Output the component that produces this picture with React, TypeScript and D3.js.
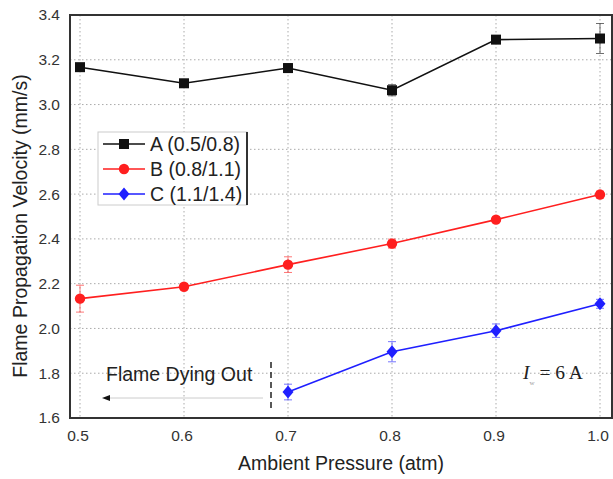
import React from "react";
import * as d3 from "d3";

const pressures = [0.5, 0.6, 0.7, 0.8, 0.9, 1.0];
const seriesA = [3.167, 3.095, 3.163, 3.064, 3.29, 3.295];
const errA = [0.015, 0.01, 0.02, 0.025, 0.01, 0.067];
const seriesB = [2.133, 2.186, 2.285, 2.379, 2.486, 2.598];
const errB = [0.06, 0.012, 0.035, 0.02, 0.01, 0.015];
const pressuresC = [0.7, 0.8, 0.9, 1.0];
const seriesC = [1.716, 1.896, 1.99, 2.11];
const errC = [0.035, 0.045, 0.03, 0.02];
const xTicks = [0.5, 0.6, 0.7, 0.8, 0.9, 1.0];
const yTicks = [1.6, 1.8, 2.0, 2.2, 2.4, 2.6, 2.8, 3.0, 3.2, 3.4];
const legendLabels = ["A (0.5/0.8)", "B (0.8/1.1)", "C (1.1/1.4)"];
const colors = ["#111111", "#ff1f1f", "#1f1fff"];

const W = 613, H = 479;
const L = 70, R = 612, T = 15, B = 418;

export default function App() {
  const x = d3.scaleLinear().domain([0.5, 1.0]).range([80, 600]);
  const y = d3.scaleLinear().domain([1.6, 3.4]).range([B, T]);
  const line = d3.line<[number, number]>().x(d => x(d[0])).y(d => y(d[1]));

  const series = [
    { xs: pressures, ys: seriesA, err: errA, shape: "square" },
    { xs: pressures, ys: seriesB, err: errB, shape: "circle" },
    { xs: pressuresC, ys: seriesC, err: errC, shape: "diamond" },
  ];

  const marker = (shape: string, cx: number, cy: number, color: string, key: any) => {
    if (shape === "square") return <rect key={key} x={cx - 5} y={cy - 5} width={10} height={10} fill={color} />;
    if (shape === "circle") return <circle key={key} cx={cx} cy={cy} r={5.2} fill={color} />;
    return <path key={key} d={`M${cx},${cy - 6.5}L${cx + 5.5},${cy}L${cx},${cy + 6.5}L${cx - 5.5},${cy}Z`} fill={color} />;
  };

  const font = "Liberation Sans, Arial, sans-serif";

  return (
    <svg width={W} height={H} style={{ position: "absolute", left: 0, top: 0, background: "#fff" }} fontFamily={font}>
      {/* grid */}
      {xTicks.map((t, i) => (
        <line key={"gx" + i} x1={x(t)} x2={x(t)} y1={T} y2={B} stroke="#aaa" strokeWidth={1} strokeDasharray="1.5,2.5" />
      ))}
      {yTicks.map((t, i) => (
        <line key={"gy" + i} x1={L} x2={R} y1={y(t)} y2={y(t)} stroke="#aaa" strokeWidth={1} strokeDasharray="1.5,2.5" />
      ))}
      {/* series */}
      {series.map((s, si) => {
        const pts = s.xs.map((v, i) => [v, s.ys[i]] as [number, number]);
        return (
          <g key={"s" + si}>
            {pts.map((p, i) => (
              <g key={"e" + i} stroke={colors[si]} strokeWidth={1} opacity={0.6}>
                <line x1={x(p[0])} x2={x(p[0])} y1={y(p[1] - s.err[i])} y2={y(p[1] + s.err[i])} />
                <line x1={x(p[0]) - 4} x2={x(p[0]) + 4} y1={y(p[1] - s.err[i])} y2={y(p[1] - s.err[i])} />
                <line x1={x(p[0]) - 4} x2={x(p[0]) + 4} y1={y(p[1] + s.err[i])} y2={y(p[1] + s.err[i])} />
              </g>
            ))}
            <path d={line(pts) || ""} fill="none" stroke={colors[si]} strokeWidth={1.6} />
            {pts.map((p, i) => marker(s.shape, x(p[0]), y(p[1]), colors[si], "m" + i))}
          </g>
        );
      })}
      {/* frame */}
      <rect x={L} y={T} width={R - L} height={B - T} fill="none" stroke="#333" strokeWidth={2} />
      {/* tick labels */}
      {yTicks.map((t, i) => (
        <text key={"yl" + i} x={60} y={y(t)} dy="0.35em" textAnchor="end" fontSize={15.5} fill="#333">{t.toFixed(1)}</text>
      ))}
      {xTicks.map((t, i) => (
        <text key={"xl" + i} x={x(t) - 2} y={441} textAnchor="middle" fontSize={15.5} fill="#333">{t.toFixed(1)}</text>
      ))}
      <text x={341} y={470} textAnchor="middle" fontSize={19.5} fill="#222">Ambient Pressure (atm)</text>
      <text transform={`translate(27,226) rotate(-90)`} textAnchor="middle" fontSize={19.5} fill="#222">Flame Propagation Velocity (mm/s)</text>
      {/* legend */}
      <rect x={98} y={132} width={149} height={73} fill="#fff" stroke="#ccc" strokeWidth={1} />
      <line x1={247} x2={247} y1={132} y2={205} stroke="#333" strokeWidth={2} />
      {legendLabels.map((lab, i) => {
        const ly = 144 + i * 25;
        return (
          <g key={"lg" + i}>
            <line x1={103} x2={145} y1={ly} y2={ly} stroke={colors[i]} strokeWidth={1.6} />
            {marker(series[i].shape, 124, ly, colors[i], "lm" + i)}
            <text x={150} y={ly} dy="0.35em" fontSize={19.5} fill="#222">{lab}</text>
          </g>
        );
      })}
      {/* annotations */}
      <text x={106} y={381} fontSize={19.5} fill="#222">Flame Dying Out</text>
      <line x1={271} x2={271} y1={362} y2={412} stroke="#222" strokeWidth={1.5} strokeDasharray="6,4" />
      <line x1={108} x2={263} y1={398} y2={398} stroke="#ccc" strokeWidth={1} />
      <path d="M102,398L110,395L110,401Z" fill="#111" />
      <text x={523} y={379} fontSize={19.5} fill="#222" fontFamily="Liberation Serif, Times New Roman, serif">
        <tspan fontStyle="italic">I</tspan>
        <tspan fontSize={7} dy={6} fill="#999">w</tspan>
        <tspan dy={-6}> = 6 A</tspan>
      </text>
    </svg>
  );
}
